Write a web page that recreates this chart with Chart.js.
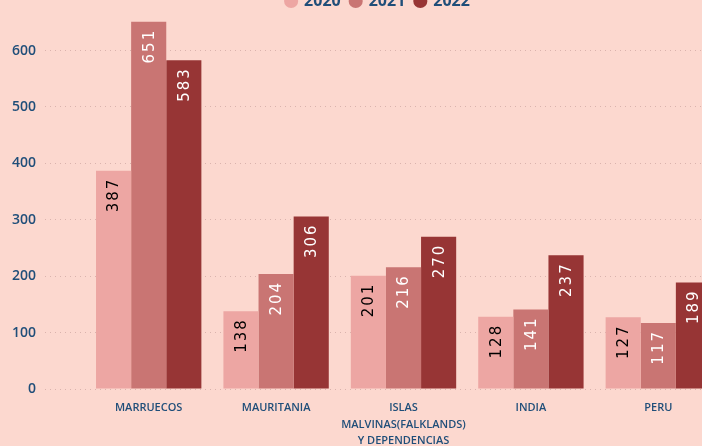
<!DOCTYPE html>
<html>
<head>
<meta charset="utf-8">
<script src="https://cdn.jsdelivr.net/npm/chart.js@4"></script>
<style>
  html, body { margin: 0; padding: 0; background: #FCD8CF; overflow: hidden; width: 702px; height: 446px; }
  #wrap { position: absolute; left: 0; top: -17px; width: 722px; height: 466px; }
</style>
</head>
<body>
<div id="wrap"><canvas id="chart-paises"></canvas></div>
<script>
  /*
    ==================================================
    ====================== DATOS =====================
    ==================================================
  */

  const paises = ['MARRUECOS', 'MAURITANIA', ['ISLAS', 'MALVINAS(FALKLANDS)', 'Y DEPENDENCIAS'], 'INDIA', 'PERU'];
  const valores2020 = [387, 138, 201, 128, 127];
  const valores2021 = [651, 204, 216, 141, 117];
  const valores2022 = [583, 306, 270, 237, 189];
  const ticksY = [0, 100, 200, 300, 400, 500, 600];

  const azul = '#1F4E79';

  /*
    ==================================================
    ============== ETIQUETAS DE BARRAS ===============
    ==================================================
  */

  const etiquetasBarras = {
    id: 'etiquetasBarras',
    afterLayout(chart) {
      // leyenda centrada un poco a la derecha, como en el original
      chart.legend.left += 17;
      chart.legend.right += 17;
    },
    afterDatasetsDraw(chart) {
      let { ctx } = chart;
      chart.data.datasets.forEach((ds, i) => {
        let meta = chart.getDatasetMeta(i);
        meta.data.forEach((bar, j) => {
          ctx.save();
          ctx.translate(bar.x, bar.y + 7);
          ctx.rotate(-Math.PI / 2);
          ctx.font = '15px "DejaVu Sans"';
          ctx.letterSpacing = '2px';
          ctx.fillStyle = ds.colorEtiqueta;
          ctx.textAlign = 'right';
          ctx.textBaseline = 'middle';
          ctx.fillText(String(ds.data[j]), 0, 1);
          ctx.restore();
        });
      });
    }
  };

  /*
    ==================================================
    ===================== GRAFICO ====================
    ==================================================
  */

  /** @type {HTMLCanvasElement} */
  let ctxPaises = document.getElementById('chart-paises').getContext('2d');

  let chartPaises = new Chart(ctxPaises, {
    type: 'bar',
    data: {
      labels: paises,
      datasets: [
        { label: '2020', data: valores2020, backgroundColor: '#EDA6A3', colorEtiqueta: '#000000' },
        { label: '2021', data: valores2021, backgroundColor: '#C97573', colorEtiqueta: '#FFFFFF' },
        { label: '2022', data: valores2022, backgroundColor: '#973535', colorEtiqueta: '#FFFFFF' }
      ]
    },
    options: {
      responsive: true,
      maintainAspectRatio: false,
      animation: false,
      layout: { padding: 0 },
      datasets: { bar: { categoryPercentage: 0.827, barPercentage: 1.0 } },
      plugins: {
        tooltip: { enabled: false },
        legend: {
          position: 'top',
          labels: {
            usePointStyle: true,
            pointStyle: 'circle',
            boxWidth: 10,
            boxHeight: 10,
            padding: 10,
            color: azul,
            font: { family: 'Open Sans', size: 16, weight: 'bold' }
          }
        }
      },
      scales: {
        x: {
          grid: { display: false, drawTicks: false },
          border: { display: false },
          ticks: {
            color: azul,
            padding: 11,
            maxRotation: 0,
            autoSkip: false,
            font: { family: 'Open Sans', size: 11, weight: '600', lineHeight: 1.5 }
          },
          afterFit: scale => { scale.height = 60; }
        },
        y: {
          min: 0,
          max: 656,
          afterBuildTicks: scale => { scale.ticks = ticksY.map(v => ({ value: v })); },
          grid: {
            color: 'rgba(190, 150, 145, 0.55)',
            tickLength: 40,
            tickColor: 'rgba(190, 150, 145, 0.55)',
            tickBorderDash: [1, 4]
          },
          border: { display: false, dash: [1, 4] },
          ticks: {
            color: azul,
            padding: 9,
            font: { family: 'Open Sans', size: 14, weight: '600' }
          },
          afterFit: scale => { scale.width = 85; }
        }
      }
    },
    plugins: [etiquetasBarras]
  });
</script>
</body>
</html>
